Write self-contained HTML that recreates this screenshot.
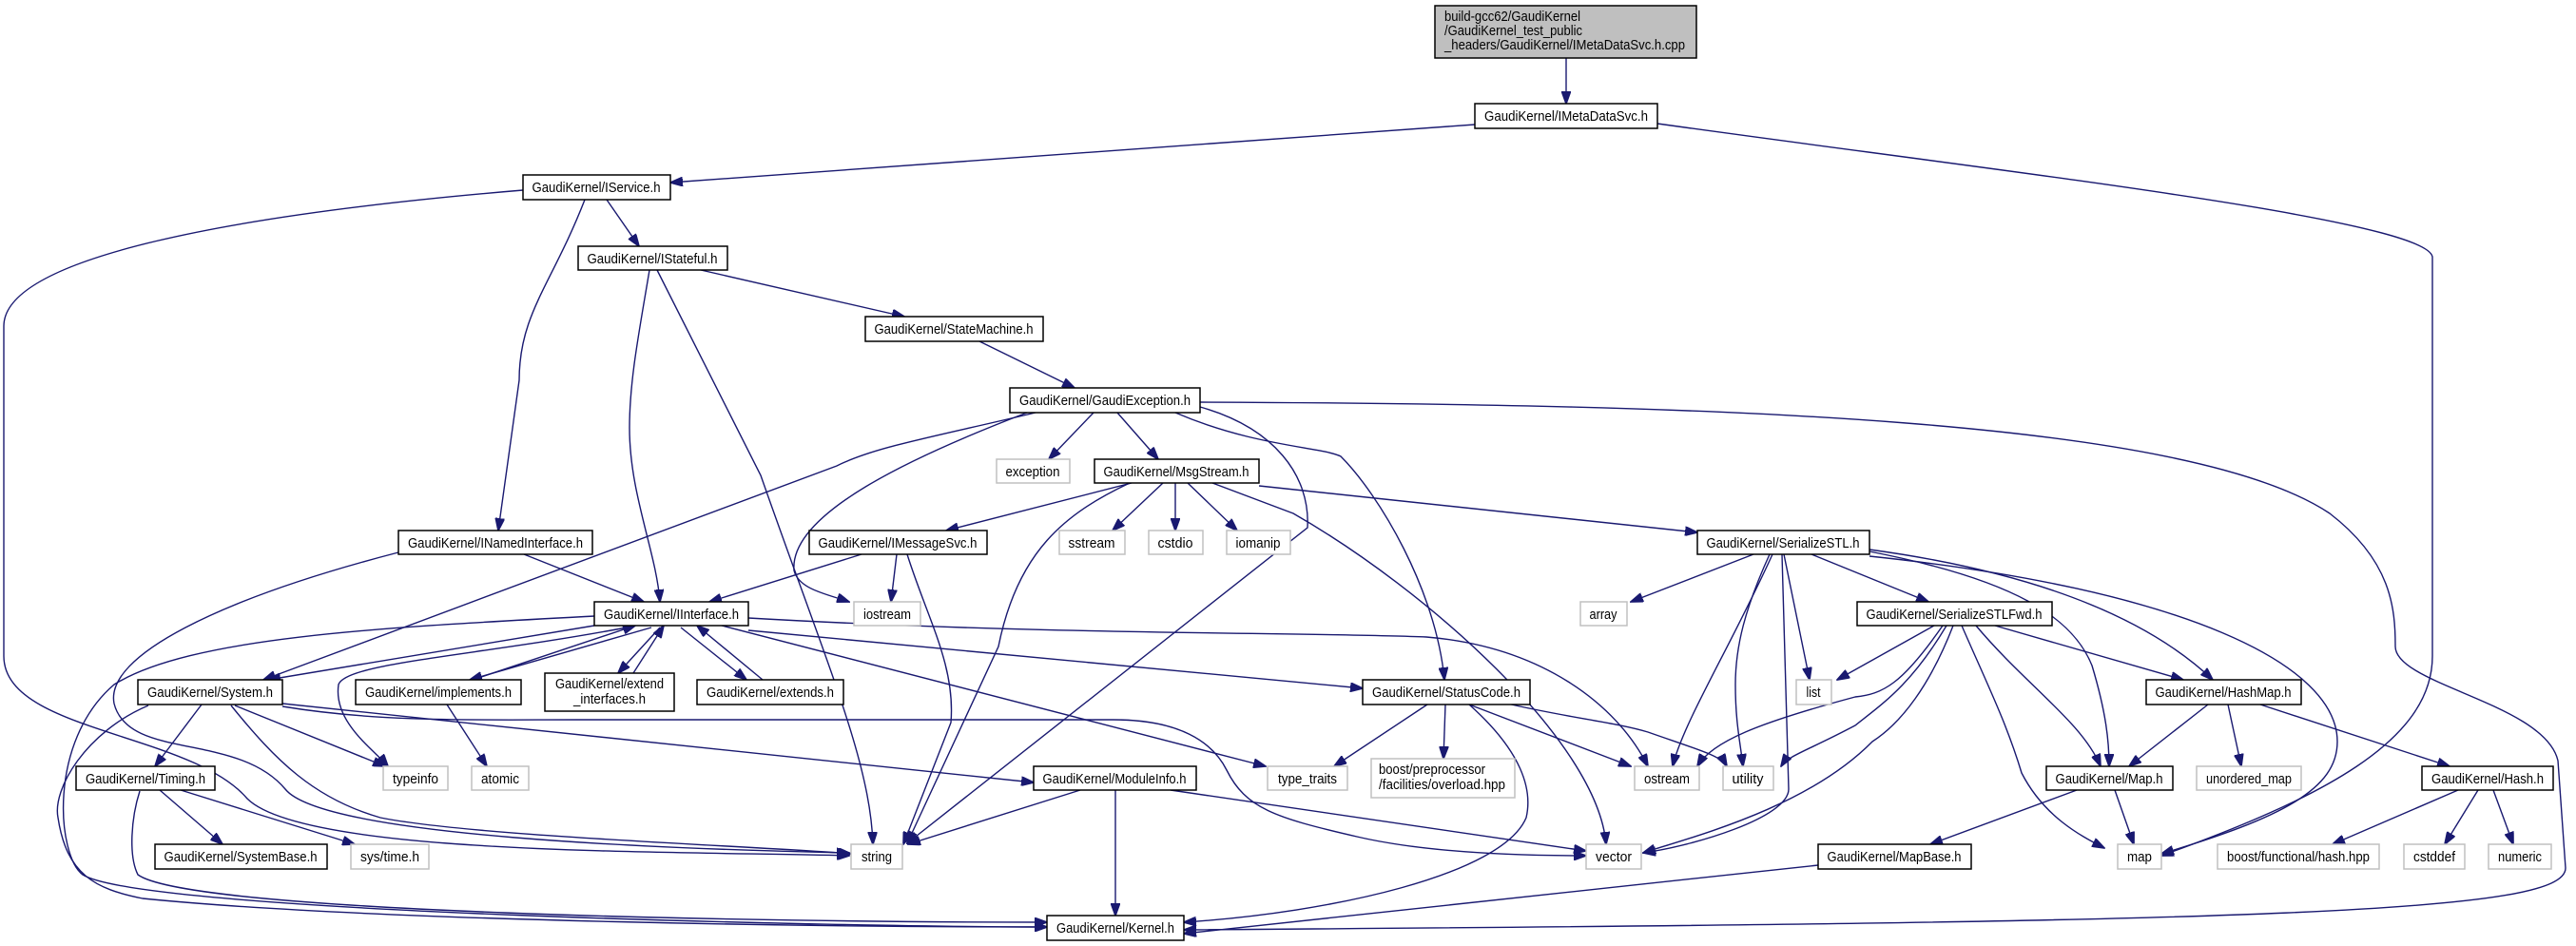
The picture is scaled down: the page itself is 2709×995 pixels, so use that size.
<!DOCTYPE html>
<html><head><meta charset="utf-8"><style>
html,body{margin:0;padding:0;background:#fff;}
svg{display:block;}
text{font-family:"Liberation Sans",Arial,sans-serif;font-size:15px;fill:#000;}
.e{fill:none;stroke:#191970;stroke-width:1.4;marker-end:url(#a);}
.n{fill:#fff;stroke:#000;stroke-width:1.5;}
.g{fill:#fff;stroke:#c0c0c0;stroke-width:1.5;}
</style></head><body>
<svg width="2709" height="995" viewBox="0 0 2709 995" xmlns="http://www.w3.org/2000/svg">
<defs><marker id="a" markerWidth="14" markerHeight="10" refX="13" refY="5" orient="auto" markerUnits="userSpaceOnUse"><path d="M0,0 L14,5 L0,10 Z" fill="#191970" stroke="#191970"/></marker></defs>
<g>
<path class="e" d="M1647,61 L1647,109"/>
<path class="e" d="M1551,131 L705,192"/>
<path class="e" d="M1743,130 C2100,180 2550,230 2558,270 L2558,690 C2558,780 2440,840 2273,900"/>
<path class="e" d="M550,200 C250,225 4,270 4,343 L4,690 C4,770 200,770 260,840 C320,900 700,895 893,900"/>
<path class="e" d="M615,210 C580,300 546,330 546,400 L524,558"/>
<path class="e" d="M638,210 L672,259"/>
<path class="e" d="M683,284 C672,350 662,400 662,450 C662,520 690,580 694,633"/>
<path class="e" d="M691,284 L800,500 C870,700 915,800 918,888"/>
<path class="e" d="M737,284 L951,333"/>
<path class="e" d="M1030,359 L1130,408"/>
<path class="e" d="M1150,434 L1103,483"/>
<path class="e" d="M1175,434 L1218,483"/>
<path class="e" d="M1262,423 C1800,425 2300,440 2450,540 C2515,590 2519,640 2519,680 C2519,720 2676,740 2690,800 L2698,913 C2698,960 2400,970 1245,978"/>
<path class="e" d="M1089,434 C980,460 920,470 880,490 L277,715"/>
<path class="e" d="M1080,434 C960,480 830,540 835,600 C840,620 870,625 893,633"/>
<path class="e" d="M1236,434 C1320,470 1390,470 1410,480 C1450,520 1510,620 1519,715"/>
<path class="e" d="M1262,428 C1340,450 1378,500 1375,555 L954,887"/>
<path class="e" d="M1190,508 L995,558"/>
<path class="e" d="M1188,508 C1120,540 1070,580 1050,680 L954,887"/>
<path class="e" d="M1223,508 L1170,558"/>
<path class="e" d="M1236,508 L1236,558"/>
<path class="e" d="M1249,508 L1301,558"/>
<path class="e" d="M1275,508 L1360,540 C1500,620 1680,780 1689,888"/>
<path class="e" d="M1324,511 L1785,560"/>
<path class="e" d="M551,583 L677,633"/>
<path class="e" d="M419,581 C230,630 110,690 120,740 C135,800 250,770 300,830 C340,880 700,893 893,897"/>
<path class="e" d="M906,583 L746,633"/>
<path class="e" d="M943,583 L937,633"/>
<path class="e" d="M954,583 C975,650 1005,700 1000,760 L950,888"/>
<path class="e" d="M625,658 L282,715"/>
<path class="e" d="M625,648 C400,660 200,670 120,720 C50,780 60,900 87,920 C150,960 900,975 1101,975"/>
<path class="e" d="M659,660 C500,690 364,697 356,720 C350,760 395,790 408,806"/>
<path class="e" d="M503,713 L668,658"/>
<path class="e" d="M685,660 L494,715"/>
<path class="e" d="M694,660 L650,708"/>
<path class="e" d="M666,708 L698,658"/>
<path class="e" d="M716,660 L785,715"/>
<path class="e" d="M802,715 L733,658"/>
<path class="e" d="M787,663 L1433,724"/>
<path class="e" d="M787,650 C1100,668 1380,665 1500,670 C1620,680 1700,740 1733,806"/>
<path class="e" d="M759,658 L1331,806"/>
<path class="e" d="M212,741 L163,806"/>
<path class="e" d="M247,742 L405,806"/>
<path class="e" d="M243,742 C290,800 330,840 400,860 C500,880 800,890 895,898"/>
<path class="e" d="M156,742 C90,770 55,830 61,860 C70,920 100,935 150,945 C400,970 900,975 1101,975"/>
<path class="e" d="M297,740 L1087,823"/>
<path class="e" d="M297,743 C400,760 500,757 607,757 L1171,757 C1240,757 1275,780 1290,810 C1310,850 1340,860 1427,880 C1500,897 1600,900 1668,900"/>
<path class="e" d="M470,741 L512,806"/>
<path class="e" d="M168,831 L234,888"/>
<path class="e" d="M190,831 L373,888"/>
<path class="e" d="M147,832 C138,860 135,900 145,920 C200,960 800,970 1101,970"/>
<path class="e" d="M1136,831 L955,888"/>
<path class="e" d="M1173,831 L1173,963"/>
<path class="e" d="M1231,831 L1668,895"/>
<path class="e" d="M1501,741 L1403,806"/>
<path class="e" d="M1520,741 L1518,798"/>
<path class="e" d="M1545,741 L1715,806"/>
<path class="e" d="M1585,740 C1650,755 1700,760 1733,770 C1790,790 1810,795 1816,806"/>
<path class="e" d="M1545,741 C1600,790 1612,830 1605,860 C1580,920 1400,960 1245,970"/>
<path class="e" d="M1844,583 L1715,633"/>
<path class="e" d="M1864,583 C1820,680 1770,760 1759,806"/>
<path class="e" d="M1861,583 C1835,640 1825,680 1825,720 C1825,760 1830,780 1833,806"/>
<path class="e" d="M1876,583 L1903,715"/>
<path class="e" d="M1874,583 L1881,830 C1881,860 1780,890 1728,897"/>
<path class="e" d="M1905,583 L2028,633"/>
<path class="e" d="M1966,580 C2120,610 2180,650 2200,700 C2215,750 2218,780 2218,806"/>
<path class="e" d="M1966,578 C2200,610 2290,680 2327,715"/>
<path class="e" d="M1966,585 C2300,620 2458,700 2458,780 C2458,830 2400,860 2273,898"/>
<path class="e" d="M2034,658 L1932,715"/>
<path class="e" d="M2043,658 C2000,720 1980,730 1951,733 C1850,760 1800,780 1785,806"/>
<path class="e" d="M2047,658 C2010,720 1980,740 1951,763 C1900,790 1880,795 1873,806"/>
<path class="e" d="M2054,658 C2030,720 2000,760 1969,780 C1900,850 1780,880 1728,897"/>
<path class="e" d="M2063,658 C2090,720 2110,760 2126,813 C2150,860 2190,880 2213,892"/>
<path class="e" d="M2078,658 C2130,720 2190,760 2209,806"/>
<path class="e" d="M2098,658 L2296,715"/>
<path class="e" d="M2322,741 L2239,806"/>
<path class="e" d="M2343,741 L2357,806"/>
<path class="e" d="M2377,741 L2576,806"/>
<path class="e" d="M2184,831 L2030,888"/>
<path class="e" d="M2224,831 L2244,888"/>
<path class="e" d="M2585,831 L2453,888"/>
<path class="e" d="M2606,831 L2571,888"/>
<path class="e" d="M2622,831 L2643,888"/>
<path class="e" d="M1912,910 L1245,982"/>
</g>
<g>
<rect x="1509" y="6" width="275" height="55" fill="#bfbfbf" stroke="#000" stroke-width="1.5"/>
<text x="1519" y="22" textLength="143" lengthAdjust="spacingAndGlyphs">build-gcc62/GaudiKernel</text>
<text x="1519" y="37" textLength="145" lengthAdjust="spacingAndGlyphs">/GaudiKernel_test_public</text>
<text x="1519" y="52" textLength="253" lengthAdjust="spacingAndGlyphs">_headers/GaudiKernel/IMetaDataSvc.h.cpp</text>
</g>
<g text-anchor="middle">
<rect class="n" x="1551" y="109" width="192" height="26"/><text x="1647" y="127" textLength="172" lengthAdjust="spacingAndGlyphs">GaudiKernel/IMetaDataSvc.h</text>
<rect class="n" x="550" y="184" width="155" height="26"/><text x="627" y="202" textLength="135" lengthAdjust="spacingAndGlyphs">GaudiKernel/IService.h</text>
<rect class="n" x="608" y="259" width="157" height="25"/><text x="686" y="277" textLength="137" lengthAdjust="spacingAndGlyphs">GaudiKernel/IStateful.h</text>
<rect class="n" x="910" y="333" width="187" height="26"/><text x="1003" y="351" textLength="167" lengthAdjust="spacingAndGlyphs">GaudiKernel/StateMachine.h</text>
<rect class="n" x="1062" y="408" width="200" height="26"/><text x="1162" y="426" textLength="180" lengthAdjust="spacingAndGlyphs">GaudiKernel/GaudiException.h</text>
<rect class="g" x="1048" y="483" width="77" height="25"/><text x="1086" y="501" textLength="57" lengthAdjust="spacingAndGlyphs">exception</text>
<rect class="n" x="1151" y="483" width="173" height="25"/><text x="1237" y="501" textLength="153" lengthAdjust="spacingAndGlyphs">GaudiKernel/MsgStream.h</text>
<rect class="n" x="419" y="558" width="204" height="25"/><text x="521" y="576" textLength="184" lengthAdjust="spacingAndGlyphs">GaudiKernel/INamedInterface.h</text>
<rect class="n" x="851" y="558" width="187" height="25"/><text x="944" y="576" textLength="167" lengthAdjust="spacingAndGlyphs">GaudiKernel/IMessageSvc.h</text>
<rect class="g" x="1114" y="558" width="69" height="25"/><text x="1148" y="576" textLength="49" lengthAdjust="spacingAndGlyphs">sstream</text>
<rect class="g" x="1208" y="558" width="57" height="25"/><text x="1236" y="576" textLength="37" lengthAdjust="spacingAndGlyphs">cstdio</text>
<rect class="g" x="1290" y="558" width="67" height="25"/><text x="1323" y="576" textLength="47" lengthAdjust="spacingAndGlyphs">iomanip</text>
<rect class="n" x="1785" y="558" width="181" height="25"/><text x="1875" y="576" textLength="161" lengthAdjust="spacingAndGlyphs">GaudiKernel/SerializeSTL.h</text>
<rect class="n" x="625" y="633" width="162" height="25"/><text x="706" y="651" textLength="142" lengthAdjust="spacingAndGlyphs">GaudiKernel/IInterface.h</text>
<rect class="g" x="898" y="633" width="70" height="25"/><text x="933" y="651" textLength="50" lengthAdjust="spacingAndGlyphs">iostream</text>
<rect class="g" x="1662" y="633" width="49" height="25"/><text x="1686" y="651" textLength="29" lengthAdjust="spacingAndGlyphs">array</text>
<rect class="n" x="1953" y="633" width="205" height="25"/><text x="2055" y="651" textLength="185" lengthAdjust="spacingAndGlyphs">GaudiKernel/SerializeSTLFwd.h</text>
<rect class="n" x="145" y="715" width="152" height="26"/><text x="221" y="733" textLength="132" lengthAdjust="spacingAndGlyphs">GaudiKernel/System.h</text>
<rect class="n" x="374" y="715" width="174" height="26"/><text x="461" y="733" textLength="154" lengthAdjust="spacingAndGlyphs">GaudiKernel/implements.h</text>
<rect class="n" x="573" y="708" width="136" height="40"/><text x="641" y="724" textLength="114" lengthAdjust="spacingAndGlyphs">GaudiKernel/extend</text><text x="641" y="740" textLength="76" lengthAdjust="spacingAndGlyphs">_interfaces.h</text>
<rect class="n" x="733" y="715" width="154" height="26"/><text x="810" y="733" textLength="134" lengthAdjust="spacingAndGlyphs">GaudiKernel/extends.h</text>
<rect class="n" x="1433" y="715" width="176" height="26"/><text x="1521" y="733" textLength="156" lengthAdjust="spacingAndGlyphs">GaudiKernel/StatusCode.h</text>
<rect class="g" x="1889" y="715" width="37" height="26"/><text x="1907" y="733" textLength="15" lengthAdjust="spacingAndGlyphs">list</text>
<rect class="n" x="2257" y="715" width="163" height="26"/><text x="2338" y="733" textLength="143" lengthAdjust="spacingAndGlyphs">GaudiKernel/HashMap.h</text>
<rect class="n" x="80" y="806" width="146" height="25"/><text x="153" y="824" textLength="126" lengthAdjust="spacingAndGlyphs">GaudiKernel/Timing.h</text>
<rect class="g" x="403" y="806" width="68" height="25"/><text x="437" y="824" textLength="48" lengthAdjust="spacingAndGlyphs">typeinfo</text>
<rect class="g" x="496" y="806" width="60" height="25"/><text x="526" y="824" textLength="40" lengthAdjust="spacingAndGlyphs">atomic</text>
<rect class="n" x="1087" y="806" width="171" height="25"/><text x="1172" y="824" textLength="151" lengthAdjust="spacingAndGlyphs">GaudiKernel/ModuleInfo.h</text>
<rect class="g" x="1333" y="806" width="84" height="25"/><text x="1375" y="824" textLength="62" lengthAdjust="spacingAndGlyphs">type_traits</text>
<rect class="g" x="1719" y="806" width="68" height="25"/><text x="1753" y="824" textLength="48" lengthAdjust="spacingAndGlyphs">ostream</text>
<rect class="g" x="1812" y="806" width="53" height="25"/><text x="1838" y="824" textLength="33" lengthAdjust="spacingAndGlyphs">utility</text>
<rect class="n" x="2152" y="806" width="133" height="25"/><text x="2218" y="824" textLength="113" lengthAdjust="spacingAndGlyphs">GaudiKernel/Map.h</text>
<rect class="g" x="2310" y="806" width="110" height="25"/><text x="2365" y="824" textLength="90" lengthAdjust="spacingAndGlyphs">unordered_map</text>
<rect class="n" x="2547" y="806" width="138" height="25"/><text x="2616" y="824" textLength="118" lengthAdjust="spacingAndGlyphs">GaudiKernel/Hash.h</text>
<rect class="n" x="163" y="888" width="181" height="26"/><text x="253" y="906" textLength="161" lengthAdjust="spacingAndGlyphs">GaudiKernel/SystemBase.h</text>
<rect class="g" x="369" y="888" width="82" height="26"/><text x="410" y="906" textLength="62" lengthAdjust="spacingAndGlyphs">sys/time.h</text>
<rect class="g" x="895" y="888" width="54" height="26"/><text x="922" y="906" textLength="32" lengthAdjust="spacingAndGlyphs">string</text>
<rect class="g" x="1668" y="888" width="58" height="26"/><text x="1697" y="906" textLength="38" lengthAdjust="spacingAndGlyphs">vector</text>
<rect class="n" x="1912" y="888" width="161" height="26"/><text x="1992" y="906" textLength="141" lengthAdjust="spacingAndGlyphs">GaudiKernel/MapBase.h</text>
<rect class="g" x="2227" y="888" width="46" height="26"/><text x="2250" y="906" textLength="26" lengthAdjust="spacingAndGlyphs">map</text>
<rect class="g" x="2332" y="888" width="170" height="26"/><text x="2417" y="906" textLength="150" lengthAdjust="spacingAndGlyphs">boost/functional/hash.hpp</text>
<rect class="g" x="2528" y="888" width="64" height="26"/><text x="2560" y="906" textLength="44" lengthAdjust="spacingAndGlyphs">cstddef</text>
<rect class="g" x="2617" y="888" width="66" height="26"/><text x="2650" y="906" textLength="46" lengthAdjust="spacingAndGlyphs">numeric</text>
<rect class="n" x="1101" y="963" width="144" height="26"/><text x="1173" y="981" textLength="124" lengthAdjust="spacingAndGlyphs">GaudiKernel/Kernel.h</text>
</g>
<g>
<rect class="g" x="1442" y="798" width="151" height="41"/>
<text x="1450" y="814" textLength="112" lengthAdjust="spacingAndGlyphs">boost/preprocessor</text>
<text x="1450" y="830" textLength="133" lengthAdjust="spacingAndGlyphs">/facilities/overload.hpp</text>
</g>
</svg>
</body></html>
